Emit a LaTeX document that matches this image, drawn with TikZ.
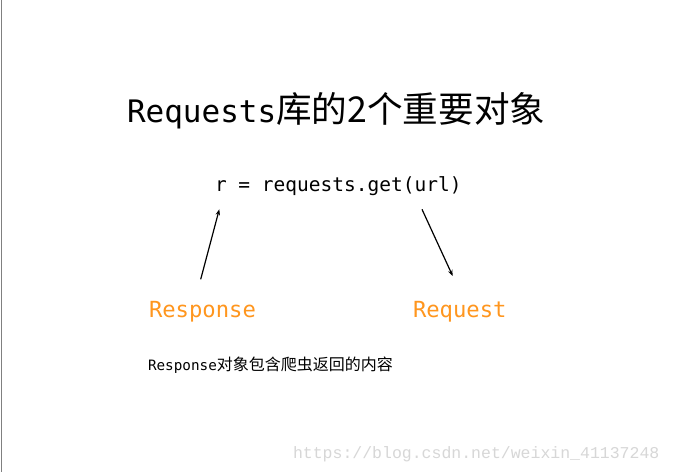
\documentclass[tikz,border=0pt]{standalone}
\usepackage{fontspec}
\usetikzlibrary{arrows.meta}
\newfontfamily\monofam{DejaVu Sans Mono}
\newfontfamily\cjkfam{Noto Sans CJK SC}
\newfontfamily\urlfam{Liberation Mono}
\definecolor{labelorange}{RGB}{255,150,30}
\definecolor{wmgray}{RGB}{215,215,215}
\definecolor{edgegray}{RGB}{128,128,128}
\tikzset{
  txt/.style={inner sep=0pt, outer sep=0pt, anchor=base west},
  orangelabel/.style={txt, text=labelorange, font=\monofam\fontsize{22.2}{22.2}\selectfont},
  pointer/.style={line width=1.2pt, -{Stealth[length=6pt,width=4.5pt]}}
}
\begin{document}
\begin{tikzpicture}[x=1pt,y=-1pt]
\useasboundingbox (0,0) rectangle (673,472);
\fill[white] (0,0) rectangle (673,472);
\draw[edgegray, line width=1.5pt] (1.5,0) -- (1.5,472);
\node[txt] (title) at (127,122) {{\monofam\fontsize{31}{31}\selectfont Requests}{\cjkfam\fontsize{35.6}{35.6}\selectfont 库的2个重要对象}};
\node[txt, font=\monofam\fontsize{19.5}{19.5}\selectfont] (code) at (215,191) {r = requests.get(url)};
\node[orangelabel] (resp) at (149,317) {Response};
\node[orangelabel] (req) at (413,317) {Request};
\node[txt] (cap) at (148,370) {{\monofam\fontsize{14.3}{14.3}\selectfont Response}{\cjkfam\fontsize{16}{16}\selectfont 对象包含爬虫返回的内容}};
\node[txt, text=wmgray, font=\urlfam\fontsize{16.5}{16.5}\selectfont] (url) at (293,458) {https://blog.csdn.net/weixin\_41137248};
\coordinate (la) at (200.7,279.3);
\coordinate (lb) at (219.3,209.3);
\coordinate (ra) at (422,209.3);
\coordinate (rb) at (452.7,276);
\draw[pointer] (la) -- (lb);
\draw[pointer] (ra) -- (rb);
\end{tikzpicture}
\end{document}
